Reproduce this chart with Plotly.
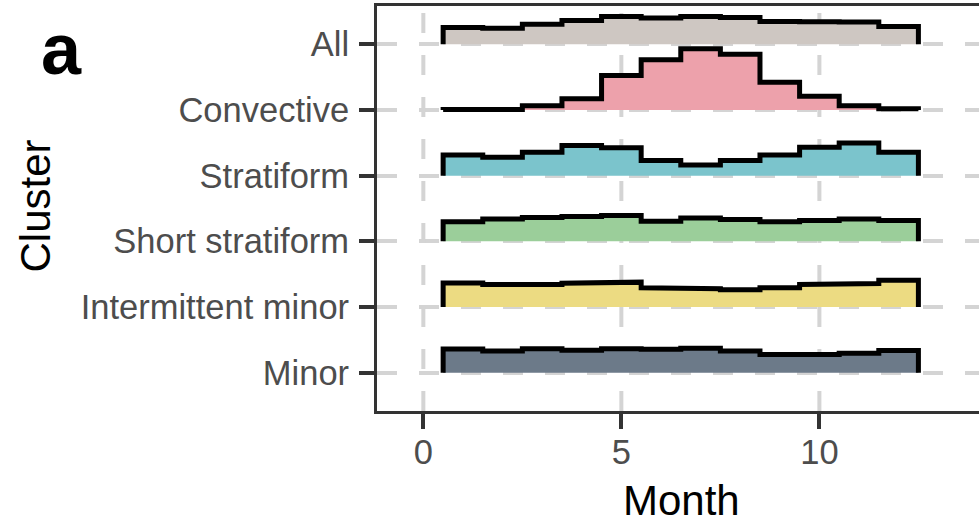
import numpy as np
import plotly.graph_objects as go

# Monthly share of events (%) per rainfall cluster, January..December
clusters = ["Minor", "Intermittent minor", "Short stratiform", "Stratiform", "Convective", "All"]
months = np.arange(1, 13)

all_pct = [6.3, 6.0, 7.5, 8.9, 10.4, 9.8, 10.4, 10.0, 8.5, 8.4, 8.3, 6.6]
convective_pct = [0.1, 0.1, 1.6, 4.2, 12.9, 18.9, 23.0, 20.9, 10.4, 5.1, 1.6, 0.4]
stratiform_pct = [7.8, 6.9, 8.8, 11.3, 10.5, 5.7, 4.0, 5.7, 7.8, 10.7, 12.3, 8.8]
short_stratiform_pct = [7.4, 8.4, 9.0, 9.4, 9.7, 7.6, 8.8, 8.2, 7.4, 7.9, 8.4, 7.9]
intermittent_minor_pct = [9.1, 8.5, 8.5, 9.0, 9.4, 7.3, 6.9, 6.5, 7.3, 8.5, 8.9, 10.1]
minor_pct = [9.0, 8.2, 9.1, 8.5, 9.1, 8.9, 9.3, 8.2, 6.9, 6.9, 7.4, 8.4]

x_ticks = [0, 5, 10]

series = {
    "All": all_pct,
    "Convective": convective_pct,
    "Stratiform": stratiform_pct,
    "Short stratiform": short_stratiform_pct,
    "Intermittent minor": intermittent_minor_pct,
    "Minor": minor_pct,
}
fills = {
    "All": "#CEC7C2",
    "Convective": "#EDA1AB",
    "Stratiform": "#7BC4CC",
    "Short stratiform": "#9BCE9A",
    "Intermittent minor": "#ECDB82",
    "Minor": "#6C7A89",
}

RIDGE_SCALE = 0.0404  # ridge height (category units) per percent
Y_RANGE = [0.42, 6.58]
X_RANGE = [-1.17, 14.03]

fig = go.Figure()

# dashed vertical grid lines, drawn bottom-up
for xv in x_ticks:
    fig.add_trace(go.Scatter(
        x=[xv, xv], y=Y_RANGE, mode="lines",
        line=dict(color="#D4D4D4", width=4, dash="20px,22px"),
        hoverinfo="skip", showlegend=False,
    ))

# step ridges, top category first so lower ones sit on top
for name in ["All", "Convective", "Stratiform", "Short stratiform", "Intermittent minor", "Minor"]:
    base = clusters.index(name) + 1
    h = np.asarray(series[name]) * RIDGE_SCALE
    xs = [months[0] - 0.5]
    ys = [base]
    for m, hv in zip(months, h):
        xs += [m - 0.5, m + 0.5]
        ys += [base + hv, base + hv]
    xs.append(months[-1] + 0.5)
    ys.append(base)
    fig.add_trace(go.Scatter(
        x=xs, y=ys, mode="lines", fill="toself", fillcolor=fills[name],
        line=dict(color="black", width=5),
        hoverinfo="skip", showlegend=False,
    ))

axis_col = "#333333"
tick_font = dict(family="Liberation Sans, Arial, sans-serif", size=34.5, color="#4D4D4D")

fig.update_layout(
    width=979, height=525,
    margin=dict(l=377, r=0, t=6, b=114),
    paper_bgcolor="white", plot_bgcolor="white",
    xaxis=dict(
        range=X_RANGE, tickvals=x_ticks, ticktext=[str(v) for v in x_ticks],
        showgrid=False, zeroline=False,
        showline=True, mirror=True, linecolor=axis_col, linewidth=3,
        ticks="outside", ticklen=15, tickwidth=4, tickcolor=axis_col,
        tickfont=tick_font, ticklabelstandoff=-6,
    ),
    yaxis=dict(
        range=Y_RANGE, tickvals=list(range(1, len(clusters) + 1)), ticktext=clusters,
        showgrid=True, gridcolor="#D4D4D4", gridwidth=4, griddash="20px,22px",
        zeroline=False,
        showline=True, linecolor=axis_col, linewidth=3,
        ticks="outside", ticklen=15, tickwidth=4, tickcolor=axis_col,
        tickfont=tick_font, ticklabelstandoff=3,
    ),
    annotations=[
        dict(text="Month", xref="paper", yref="paper", x=0.505, y=-0.22,
             xanchor="center", yanchor="middle", showarrow=False,
             font=dict(family="Liberation Sans, Arial, sans-serif", size=42, color="black")),
        dict(text="Cluster", xref="paper", yref="paper", x=(35 - 377) / 602, y=0.505,
             xanchor="center", yanchor="middle", textangle=-90, showarrow=False,
             font=dict(family="Liberation Sans, Arial, sans-serif", size=42, color="black")),
        dict(text="<b>a</b>", xref="paper", yref="paper", x=(61 - 377) / 602, y=1 - (49 - 6) / 405,
             xanchor="center", yanchor="middle", showarrow=False,
             font=dict(family="Liberation Sans, Arial, sans-serif", size=72, color="black")),
    ],
)

fig.write_html("out.html")
